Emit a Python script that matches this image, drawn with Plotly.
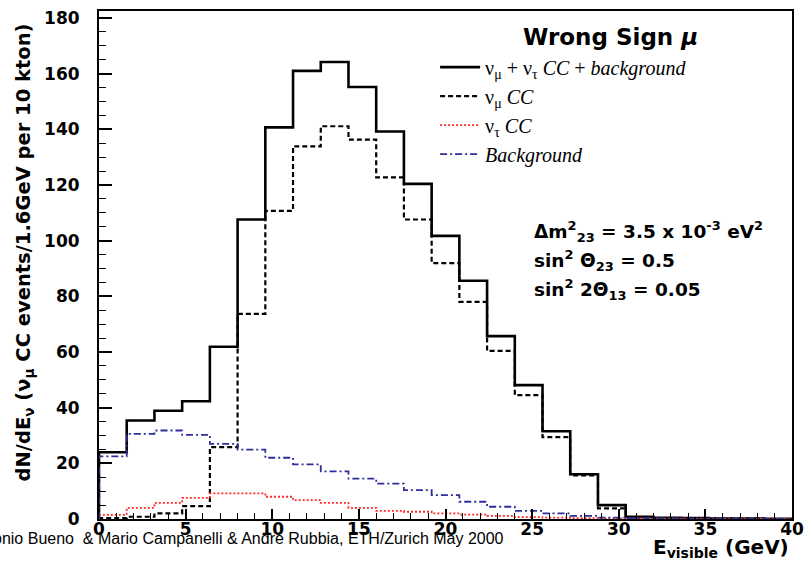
import plotly.graph_objects as go

# ---- data (1.6 GeV bins from 0 to 40 GeV) ----
bin_width = 1.6
n_bins = 25
edges = [round(i * bin_width, 2) for i in range(n_bins + 1)]

total = [24.0, 35.4, 38.9, 42.3, 61.9, 107.6, 140.7, 161.0, 164.2, 155.2,
         139.2, 120.4, 101.7, 85.6, 65.7, 48.1, 31.5, 16.1, 5.0, 0.8,
         0.4, 0.3, 0.2, 0.2, 0.1]
numu_cc = [0.3, 0.8, 2.0, 4.6, 25.8, 73.7, 110.7, 133.9, 141.1, 136.3,
           122.7, 107.6, 91.9, 78.0, 60.4, 44.5, 29.4, 15.7, 3.8, 0.5,
           0.2, 0.1, 0.1, 0.1, 0.0]
nutau_cc = [1.5, 4.0, 5.8, 7.6, 9.2, 9.2, 8.0, 6.8, 5.8, 4.0,
            2.9, 2.6, 2.0, 1.6, 1.1, 0.7, 0.5, 0.3, 0.2, 0.2,
            0.1, 0.1, 0.1, 0.1, 0.0]
background = [22.5, 30.6, 31.8, 30.2, 27.0, 24.9, 22.0, 19.6, 17.1, 14.5,
              12.7, 10.4, 8.6, 6.2, 4.4, 2.9, 2.0, 1.1, 0.5, 0.3,
              0.2, 0.1, 0.1, 0.1, 0.0]

y_ticks = list(range(0, 181, 20))
x_ticks = list(range(0, 41, 5))


def step_xy(vals):
    xs = [edges[0]] + edges[:-1] + [edges[-1]]
    ys = [0] + list(vals) + [vals[-1]]
    return xs, ys


series = [
    ("ν<sub>μ</sub> + ν<sub>τ</sub> <i>CC</i> + <i>background</i>", total,
     dict(color="black", width=2.6, dash="solid")),
    ("ν<sub>μ</sub> <i>CC</i>", numu_cc,
     dict(color="black", width=2.2, dash="5px,3px")),
    ("ν<sub>τ</sub> <i>CC</i>", nutau_cc,
     dict(color="#ff2a2a", width=1.8, dash="2px,2px")),
    ("<i>Background</i>", background,
     dict(color="#2e2e9a", width=1.8, dash="7px,3px,2px,3px")),
]

fig = go.Figure()
for name, vals, line in series:
    xs, ys = step_xy(vals)
    fig.add_trace(go.Scatter(x=xs, y=ys, mode="lines", line_shape="hv",
                             name=name, line=line))

tick_font = dict(family="DejaVu Sans", size=17, color="black", weight="bold")

fig.update_layout(
    width=812, height=565,
    margin=dict(l=99, r=11, t=8, b=46),
    paper_bgcolor="white", plot_bgcolor="white",
    showlegend=True,
    legend=dict(x=0.485, y=0.928, xanchor="left", yanchor="top",
                bgcolor="rgba(0,0,0,0)", borderwidth=0,
                font=dict(family="Liberation Serif", size=20, color="black"),
                itemwidth=40, tracegroupgap=0),
    xaxis=dict(range=[0, 40], tickvals=x_ticks, ticks="inside", ticklen=10,
               tickwidth=1.5, tickcolor="black",
               minor=dict(dtick=1, ticks="inside", ticklen=6, tickcolor="black", tickwidth=1),
               showgrid=False, zeroline=False, showline=True, linecolor="black",
               linewidth=2, mirror=True, tickfont=tick_font,
               ticklabeloverflow="allow", ticklabelstandoff=-6),
    yaxis=dict(range=[0, 182.5], tickvals=y_ticks, ticks="inside", ticklen=13,
               tickwidth=1.5, tickcolor="black",
               minor=dict(dtick=5, ticks="inside", ticklen=7, tickcolor="black", tickwidth=1),
               showgrid=False, zeroline=False, showline=True, linecolor="black",
               linewidth=2, mirror=True, tickfont=tick_font, ticklabelstandoff=14,
               ticklabeloverflow="allow"),
)

fig.add_annotation(
    text="dN/dE<sub>ν</sub> (ν<sub>μ</sub> CC events/1.6GeV per 10 kton)",
    xref="paper", yref="paper", x=-0.108, y=0.525, textangle=-90,
    showarrow=False, xanchor="center", yanchor="middle",
    font=dict(family="DejaVu Sans", size=19.5, color="black", weight="bold"))

fig.add_annotation(
    text="E<sub>visible</sub> (GeV)", xref="paper", yref="paper",
    x=0.9986, y=-0.058, xanchor="right", yanchor="middle", showarrow=False,
    font=dict(family="DejaVu Sans", size=20, color="black", weight="bold"))

fig.add_annotation(
    text="Antonio Bueno  &amp; Mario Campanelli &amp; Andre Rubbia, ETH/Zurich May 2000",
    xref="paper", yref="paper", x=0.587, y=-0.039, xanchor="right",
    yanchor="middle", showarrow=False,
    font=dict(family="Liberation Sans", size=16, color="black"))

fig.add_annotation(
    text="Wrong Sign <i>μ</i>", xref="paper", yref="paper", x=0.738, y=0.949,
    xanchor="center", yanchor="middle", showarrow=False,
    font=dict(family="DejaVu Sans", size=23, color="black", weight="bold"))

params = [
    ("Δm<sup>2</sup><sub>23</sub> = 3.5 x 10<sup>-3</sup> eV<sup>2</sup>", 0.566),
    ("sin<sup>2</sup> Θ<sub>23</sub> = 0.5", 0.508),
    ("sin<sup>2</sup> 2Θ<sub>13</sub> = 0.05", 0.452),
]
for txt, yp in params:
    fig.add_annotation(
        text=txt, xref="paper", yref="paper", x=0.6254, y=yp,
        xanchor="left", yanchor="middle", showarrow=False,
        font=dict(family="DejaVu Sans", size=18.5, color="black", weight="bold"))

fig.write_html("out.html")
